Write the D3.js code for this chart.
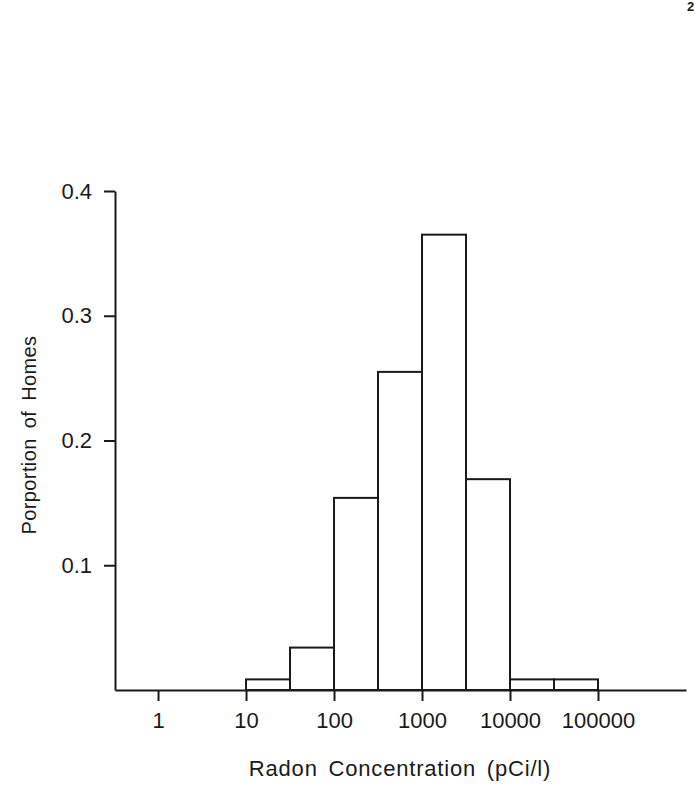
<!DOCTYPE html>
<html><head><meta charset="utf-8">
<script src="https://cdn.jsdelivr.net/npm/d3@7"></script>
<style>body{margin:0;background:#fff}svg{display:block}text{font-family:"Liberation Sans",Arial,sans-serif;fill:#1a1a1a}</style>
</head><body>
<script>
// bin edges (log10 of pCi/l) and proportions
const binStartsLog = [1, 1.5, 2, 2.5, 3, 3.5, 4, 4.5];
const binWidthLog = 0.5;
const proportions = [0.0085, 0.034, 0.154, 0.255, 0.365, 0.169, 0.0085, 0.0085];
const xTickValues = [1, 10, 100, 1000, 10000, 100000];
const xTickLabels = ["1", "10", "100", "1000", "10000", "100000"];
const yTickValues = [0.1, 0.2, 0.3, 0.4];
const yTickLabels = ["0.1", "0.2", "0.3", "0.4"];

const W = 695, H = 806;
const svg = d3.select("body").append("svg").attr("width", W).attr("height", H);

const x = d3.scaleLog().domain([Math.pow(10, -0.489), 1e6]).range([115, 686]);
const y = d3.scaleLinear().domain([0, 0.4]).range([690, 191]);
const ink = "#1a1a1a";

// bars
svg.append("g").selectAll("rect").data(proportions).join("rect")
  .attr("x", (d, i) => x(Math.pow(10, binStartsLog[i])))
  .attr("width", (d, i) => x(Math.pow(10, binStartsLog[i] + binWidthLog)) - x(Math.pow(10, binStartsLog[i])))
  .attr("y", d => y(d))
  .attr("height", d => y(0) - y(d))
  .attr("fill", "#fff").attr("stroke", ink).attr("stroke-width", 2);

// x axis
const xAxis = d3.axisBottom(x).tickValues(xTickValues)
  .tickFormat((d, i) => xTickLabels[i]).tickSize(11).tickPadding(11).tickSizeOuter(0);
const gx = svg.append("g").attr("transform", `translate(0,${y(0)})`).call(xAxis);
gx.select(".domain").attr("stroke", ink).attr("stroke-width", 2);
gx.selectAll(".tick line").attr("stroke", ink).attr("stroke-width", 2);
gx.selectAll(".tick text").attr("font-size", 22).attr("fill", ink);

// y axis
const yAxis = d3.axisLeft(y).tickValues(yTickValues)
  .tickFormat((d, i) => yTickLabels[i]).tickSize(11).tickPadding(12).tickSizeOuter(0);
const gy = svg.append("g").attr("transform", `translate(${x.range()[0]},0)`).call(yAxis);
gy.select(".domain").attr("stroke", ink).attr("stroke-width", 2);
gy.selectAll(".tick line").attr("stroke", ink).attr("stroke-width", 2);
gy.selectAll(".tick text").attr("font-size", 22).attr("fill", ink);

// titles
svg.append("text").attr("x", 400).attr("y", 776).attr("text-anchor", "middle")
  .attr("font-size", 22).attr("word-spacing", 4).attr("letter-spacing", 0.8)
  .text("Radon Concentration (pCi/l)");
svg.append("text").attr("transform", "translate(36,435) rotate(-90)")
  .attr("text-anchor", "middle").attr("font-size", 20).attr("word-spacing", 4).attr("letter-spacing", 0.4)
  .text("Porportion of Homes");

// page number (cut off at edge)
svg.append("text").attr("x", 687).attr("y", 11).attr("font-size", 13)
  .attr("font-weight", "bold").text("2");
</script>
</body></html>
